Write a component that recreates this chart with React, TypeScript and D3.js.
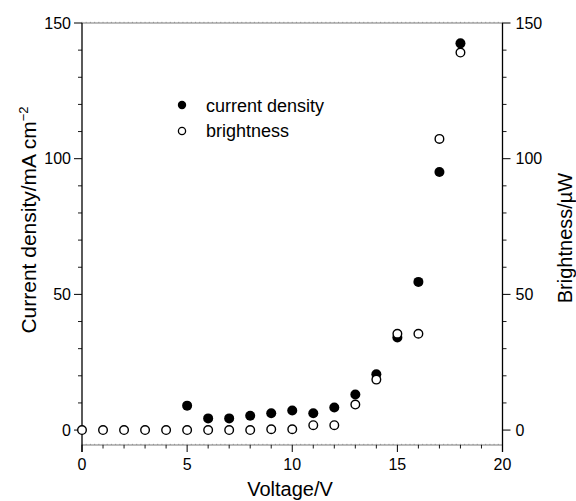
import React from "react";
import * as d3 from "d3";

const voltage = [0, 1, 2, 3, 4, 5, 6, 7, 8, 9, 10, 11, 12, 13, 14, 15, 16, 17, 18];
const brightness = [0, 0, 0, 0, 0, 0, 0, 0, 0, 0.3, 0.3, 1.8, 1.8, 9.4, 18.6, 35.5, 35.5, 107.3, 139.1];
const currentVoltage = [5, 6, 7, 8, 9, 10, 11, 12, 13, 14, 15, 16, 17, 18];
const currentDensity = [9, 4.3, 4.3, 5.3, 6.2, 7.2, 6.2, 8.3, 13.1, 20.6, 34.1, 54.6, 95.1, 142.5];
const xMajorTicks = [0, 5, 10, 15, 20];
const yMajorTicks = [0, 50, 100, 150];
const legendLabels = ["current density", "brightness"];

const W = 576;
const H = 501;
const FONT = "'Liberation Sans', Arial, Helvetica, sans-serif";

export default function App() {
  const left = 82, right = 502.5, top = 23, bottom = 445;
  const x = d3.scaleLinear().domain([0, 20]).range([left, right]);
  const y = d3.scaleLinear().domain([-5.5, 150]).range([bottom, top]);

  const xMinor = d3.range(0, 21, 1).filter((v) => v % 5 !== 0);
  const yMinor = d3.range(0, 151, 10).filter((v) => v % 50 !== 0);
  const dots = d3.range(0, 20.01, 0.2);

  return (
    <svg
      width={W}
      height={H}
      style={{ position: "absolute", left: 0, top: 0, background: "#fff" }}
      fontFamily={FONT}
    >
      <rect x={0} y={0} width={W} height={H} fill="#fff" />
      {/* top & bottom axes (thin, dotted texture) */}
      {[top, bottom].map((yy, i) => (
        <g key={"hb" + i}>
          <line x1={left} x2={right} y1={yy} y2={yy} stroke="#555" strokeWidth={0.8} />
          {dots.map((d, j) => (
            <line key={j} x1={x(d)} x2={x(d)} y1={yy - 1.2} y2={yy} stroke="#777" strokeWidth={0.6} />
          ))}
        </g>
      ))}
      {/* left axis */}
      <line x1={left} x2={left} y1={top} y2={bottom + 7} stroke="#000" strokeWidth={1.3} />
      {/* right axis */}
      <line x1={right} x2={right} y1={top} y2={bottom + 7} stroke="#000" strokeWidth={1.3} />
      {/* y ticks */}
      {yMajorTicks.map((t) => (
        <g key={"ym" + t}>
          <line x1={left - 8} x2={left} y1={y(t)} y2={y(t)} stroke="#000" strokeWidth={1} />
          <line x1={right} x2={right + 8} y1={y(t)} y2={y(t)} stroke="#000" strokeWidth={1} />
          <text x={left - 11} y={y(t)} dy="0.36em" textAnchor="end" fontSize={16}>
            {t}
          </text>
          <text x={right + 13} y={y(t)} dy="0.36em" textAnchor="start" fontSize={16}>
            {t}
          </text>
        </g>
      ))}
      {yMinor.map((t) => (
        <g key={"yn" + t}>
          <line x1={left - 4} x2={left} y1={y(t)} y2={y(t)} stroke="#000" strokeWidth={0.9} />
          <line x1={right} x2={right + 4} y1={y(t)} y2={y(t)} stroke="#000" strokeWidth={0.9} />
        </g>
      ))}
      {/* x ticks */}
      {xMajorTicks.map((t) => (
        <g key={"xm" + t}>
          <line x1={x(t)} x2={x(t)} y1={bottom} y2={bottom + 7} stroke="#000" strokeWidth={1} />
          <text x={x(t)} y={470} textAnchor="middle" fontSize={16}>
            {t}
          </text>
        </g>
      ))}
      {xMinor.map((t) => (
        <line key={"xn" + t} x1={x(t)} x2={x(t)} y1={bottom} y2={bottom + 3.5} stroke="#000" strokeWidth={0.9} />
      ))}
      {/* axis titles */}
      <text x={290} y={496} textAnchor="middle" fontSize={20}>
        Voltage/V
      </text>
      <text transform="translate(36,220) rotate(-90)" textAnchor="middle" fontSize={21}>
        Current density/mA cm
        <tspan dy={-8} fontSize={13}>−2</tspan>
      </text>
      <text transform="translate(572,238) rotate(-90)" textAnchor="middle" fontSize={20}>
        Brightness/µW
      </text>
      {/* data */}
      {currentVoltage.map((v, i) => (
        <circle key={"c" + i} cx={x(v)} cy={y(currentDensity[i])} r={5} fill="#000" />
      ))}
      {voltage.map((v, i) => (
        <circle key={"b" + i} cx={x(v)} cy={y(brightness[i])} r={4.3} fill="#fff" stroke="#000" strokeWidth={1.4} />
      ))}
      {/* legend */}
      <circle cx={182} cy={105} r={4.2} fill="#000" />
      <circle cx={182} cy={131} r={3.6} fill="#fff" stroke="#000" strokeWidth={1.3} />
      <text x={206} y={112} fontSize={18}>
        {legendLabels[0]}
      </text>
      <text x={206} y={137} fontSize={18}>
        {legendLabels[1]}
      </text>
    </svg>
  );
}
